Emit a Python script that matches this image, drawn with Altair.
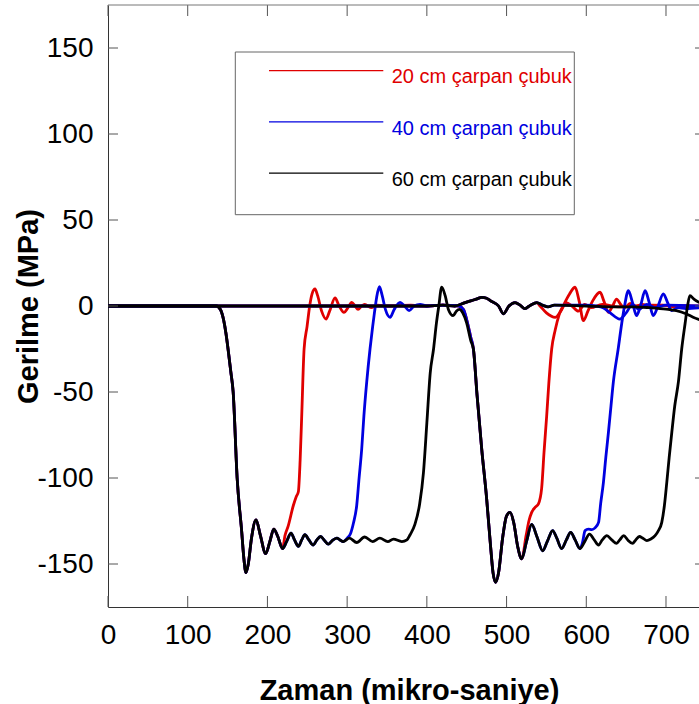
import altair as alt
import pandas as pd

# ---------------- data ----------------
SERIES = ["20 cm çarpan çubuk", "40 cm çarpan çubuk", "60 cm çarpan çubuk"]
COLORS = ["#e00000", "#0000e0", "#000000"]

X_TICKS = [0, 100, 200, 300, 400, 500, 600, 700]
Y_TICKS = [-150, -100, -50, 0, 50, 100, 150]
X_DOMAIN = [0, 741.4]
Y_DOMAIN = [-175, 175]

# first compressive pulse, common to all strikers
P1_T = [0, 60, 120, 136, 141, 145, 148, 150.6, 154, 157, 162, 167.7, 170.5, 173, 176, 180,
        185.7, 191, 197.8, 203, 208, 213, 219]
P1_V = [0, 0, 0, 0, -2, -8, -16, -25, -38, -50, -100, -131, -147, -155, -150, -135,
        -124.4, -133, -144, -137, -129.7, -134, -141]
# plateau shared by 40 cm and 60 cm
P1B_T = [224, 229.6, 234, 238.8, 243, 247, 252, 257.6, 262, 266.8, 271, 276.4, 281, 287, 291, 295]
P1B_V = [-137, -132, -136, -139.7, -136, -133, -136, -139, -136, -134, -136, -138.5, -136.5, -135, -136, -137]

# 20 cm: end of first pulse
R1_T = [222, 226, 232.5, 236, 238.8, 241, 243, 246, 249.7, 253, 256, 259.7, 263, 268, 273.5, 278,
        284.8, 290, 296, 301, 305.7, 310, 313.7, 318, 322, 330, 338, 350, 380, 400, 420, 440, 446, 450, 455]
R1_V = [-133.5, -128, -116, -111, -108, -90, -64, -25, -12, 0, 7, 9.9, 6, -3, -7.6, -3,
        4.7, 0, -3.7, -1, 2.1, 0, -2, 0, 1, -1, 0.5, 0, 0.5, 0, 0.5, 0, -2, -8, -18]
# 40 cm: end of first pulse
B1_T = [300, 304, 308, 312, 315, 318.3, 321, 324.6, 328.7, 332, 334.5, 337, 340.5, 344, 348, 353.8,
        359, 366.4, 372, 377.7, 384, 391.5, 400, 420, 440, 446, 450, 455]
B1_V = [-135, -132.6, -126, -116, -100, -83, -64, -44, -25, -12, -3, 5, 11.2, 6, -2, -6.6,
        -2, 2.1, 0, -2.7, 0, 1, 0, 0.5, 0, -2, -8, -18]
# 60 cm: end of first pulse
K1_T = [303, 312, 322, 332, 341, 351, 358, 368.6, 375, 379, 385, 391, 395.7, 400, 404.2, 408.4,
        412, 415, 418.6, 423, 427, 433, 437, 441, 445, 450, 455]
K1_V = [-135, -137.5, -134.3, -137, -135, -137, -135.5, -137, -136, -133, -127, -115, -97, -68, -39, -25,
        -10, 0, 10.9, 6, -2, -5.6, -3, -2, -4, -10, -20]

# second pulse, common to all
P2_T = [458.4, 463, 468.8, 475, 480, 483, 486.3, 490, 495, 500, 504.4, 509, 514, 519]
P2_V = [-25, -52, -83, -112, -140, -155, -160.6, -155, -135, -122, -120, -126, -140, -147]
# shared by 40 cm and 60 cm
P2B_T = [525, 531.5, 538, 545.3, 551, 557.8, 563, 569, 575, 580.4, 586, 592]
P2B_V = [-137, -127, -134, -142.3, -137, -130.6, -135, -141, -136, -131.6, -136, -141]

R2_T = [524.5, 528, 531.5, 536, 540, 544, 547, 550.3, 553, 556.6, 561, 566, 572, 579, 586, 591,
        596.4, 602, 608, 617.3, 622, 627.8, 633, 638, 643, 648, 655, 662, 670, 680, 695, 710, 725, 742]
R2_V = [-133.5, -125, -120, -117, -115, -106, -85, -64, -45, -25, -14, -5, 1, 7, 10.9, 3,
        -8.5, -3, 3, 8, 3, -3.7, 0, 4, 1, -1, 1.5, -0.5, 1, 0, 0.5, -0.5, -1, -1]
B2_T = [595, 598.5, 602.6, 607, 611, 615.4, 618, 621.5, 624.5, 627.8, 631, 634, 640, 644.5, 648,
        652.8, 658, 663, 668, 673.8, 679, 684, 690, 696.7, 702, 707, 715, 725, 742]
B2_V = [-138, -130.6, -129.7, -130, -129, -125.8, -115, -102.5, -88, -73.4, -58, -44, -25, -10, 0,
        8.9, 2, -5.6, 0, 8.9, 2, -5.6, 0, 7, 2, -2.7, -1, -1.5, -1]
K2_T = [598, 604, 610, 615.4, 620, 625.8, 632, 638, 642, 647, 652, 658, 662, 666.5, 671, 676, 681,
        686.3, 690, 694.7, 698, 701, 704, 707.3, 711, 715.6, 719.7, 724, 727, 730, 735, 742]
K2_V = [-137, -132.6, -136, -139, -136, -133.5, -136, -138, -136, -133.5, -136, -138, -136, -134, -135,
        -136.4, -135.5, -133.5, -131, -125.8, -116, -102.5, -88, -73.4, -58, -44, -25, -10, 0, 6, 4, 2]

# near-zero (transmitted) traces
S_T = [0, 100, 200, 300, 400, 420, 435, 448, 455, 462, 469, 475, 480, 490, 496, 503, 510.6, 517,
       523, 530, 538]
S_V = [0, 0, 0, 0, 0, 0.5, 0, 2, 3, 4, 5, 4.5, 3, 0, -4.5, 0, 2, 0.5, -1.5, 0.5, 2]
RS_T = [542, 550, 561, 568, 575, 582, 590, 598, 606, 620, 640, 680, 742]
RS_V = [0, -4, -6.6, -3, 2, 0, -3, 1, -1, 1, -0.5, 0.5, 0]
BS_T = [545, 552, 560, 600, 612, 621, 630, 642, 650, 658, 666, 676, 686, 700, 742]
BS_V = [0.5, -0.5, 0.5, 0.5, 0, -1, -4, -7.6, -4, 1, -2, 1, -1, 0.5, 0]
KS_T = [545, 552, 560, 600, 640, 660, 680, 700, 713, 725, 734, 742]
KS_V = [0.5, -0.5, 0.5, 0, -0.5, -0.5, -1, -1.8, -2.7, -4.5, -6.5, -8]

MAIN = {
    SERIES[0]: (P1_T + R1_T + P2_T + R2_T, P1_V + R1_V + P2_V + R2_V),
    SERIES[1]: (P1_T + P1B_T + B1_T + P2_T + P2B_T + B2_T, P1_V + P1B_V + B1_V + P2_V + P2B_V + B2_V),
    SERIES[2]: (P1_T + P1B_T + K1_T + P2_T + P2B_T + K2_T, P1_V + P1B_V + K1_V + P2_V + P2B_V + K2_V),
}
SECOND = {
    SERIES[0]: (S_T + RS_T, S_V + RS_V),
    SERIES[1]: (S_T + BS_T, S_V + BS_V),
    SERIES[2]: (S_T + KS_T, S_V + KS_V),
}

# ---------------- chart ----------------
W, H = 591, 602
FONT = "Liberation Sans"

xs = alt.Scale(domain=X_DOMAIN, nice=False, zero=False)
ys = alt.Scale(domain=Y_DOMAIN, nice=False, zero=False)

x_axis = alt.Axis(values=X_TICKS, ticks=False, tickSize=0, labelFontSize=28, labelFont=FONT,
                  labelColor="#000", labelPadding=14, labelFlush=False, labelOverlap=False,
                  labelExpr="'' + datum.value",
                  domainColor="#333", domainWidth=1, grid=False,
                  title="Zaman (mikro-saniye)", titleFont=FONT, titleFontSize=29,
                  titleFontWeight="bold", titleColor="#000", titleX=301, titleY=92,
                  titleBaseline="alphabetic", titleAlign="center")
y_axis = alt.Axis(values=Y_TICKS, ticks=False, tickSize=0, labelFontSize=28, labelFont=FONT,
                  labelColor="#000", labelPadding=15, labelOverlap=False, labelFlush=False,
                  labelExpr="'' + datum.value",
                  domainColor="#333", domainWidth=1, grid=False,
                  title="Gerilme (MPa)", titleFont=FONT, titleFontSize=29,
                  titleFontWeight="bold", titleColor="#000", titleX=-71, titleY=301,
                  titleAngle=270, titleBaseline="alphabetic", titleAlign="center")

X_ENC = alt.X("t:Q", scale=xs, axis=x_axis)
Y_ENC = alt.Y("v:Q", scale=ys, axis=y_axis)

layers = []
for name, color in zip(SERIES, COLORS):
    rows = []
    for part, src in (("main", MAIN), ("second", SECOND)):
        ts, vs = src[name]
        rows += [{"t": t, "v": v, "part": part} for t, v in zip(ts, vs)]
    df = pd.DataFrame(rows)
    layers.append(
        alt.Chart(df).mark_line(color=color, strokeWidth=2.8, clip=True, interpolate="monotone")
        .encode(x=X_ENC, y=Y_ENC, detail="part:N")
    )

xt = pd.DataFrame({"t": X_TICKS})
yt = pd.DataFrame({"v": Y_TICKS})
one = pd.DataFrame({"k": [0]})
tick_col = "#555"
layers += [
    alt.Chart(xt).mark_rule(color=tick_col, strokeWidth=1).encode(
        x=X_ENC, y=alt.value(H), y2=alt.value(H - 11)),
    alt.Chart(xt).mark_rule(color=tick_col, strokeWidth=1).encode(
        x=X_ENC, y=alt.value(0), y2=alt.value(11)),
    alt.Chart(yt).mark_rule(color=tick_col, strokeWidth=1).encode(
        y=Y_ENC, x=alt.value(0), x2=alt.value(10)),
    alt.Chart(yt).mark_rule(color=tick_col, strokeWidth=1).encode(
        y=Y_ENC, x=alt.value(W - 4), x2=alt.value(W)),
    # top frame edge
    alt.Chart(one).mark_rule(color="#777", strokeWidth=1).encode(
        x=alt.value(0), x2=alt.value(W), y=alt.value(0)),
]

# legend box
LEG_BOX = (127.3, 466.3, 47, 209.7)
layers.append(
    alt.Chart(one).mark_rect(fill="white", stroke="#666", strokeWidth=1).encode(
        x=alt.value(LEG_BOX[0]), x2=alt.value(LEG_BOX[1]),
        y=alt.value(LEG_BOX[2]), y2=alt.value(LEG_BOX[3]))
)
LEG_LINE_Y = [65.7, 116.9, 168.1]
for name, color, ly in zip(SERIES, COLORS, LEG_LINE_Y):
    layers.append(
        alt.Chart(one).mark_rule(color=color, strokeWidth=1.3).encode(
            x=alt.value(161), x2=alt.value(275.3), y=alt.value(ly))
    )
    layers.append(
        alt.Chart(one).mark_text(text=name, color=color, font=FONT, fontSize=20,
                                 align="left", baseline="alphabetic").encode(
            x=alt.value(283.7), y=alt.value(ly + 12.6))
    )

chart = alt.layer(*layers).properties(
    width=W, height=H,
    autosize=alt.AutoSizeParams(type="none"),
    padding={"left": 108, "top": 5, "right": 0, "bottom": 97},
).configure_view(stroke=None).configure_axis(grid=False)

chart.save("out.html", embed_options={"renderer": "svg", "actions": False})
